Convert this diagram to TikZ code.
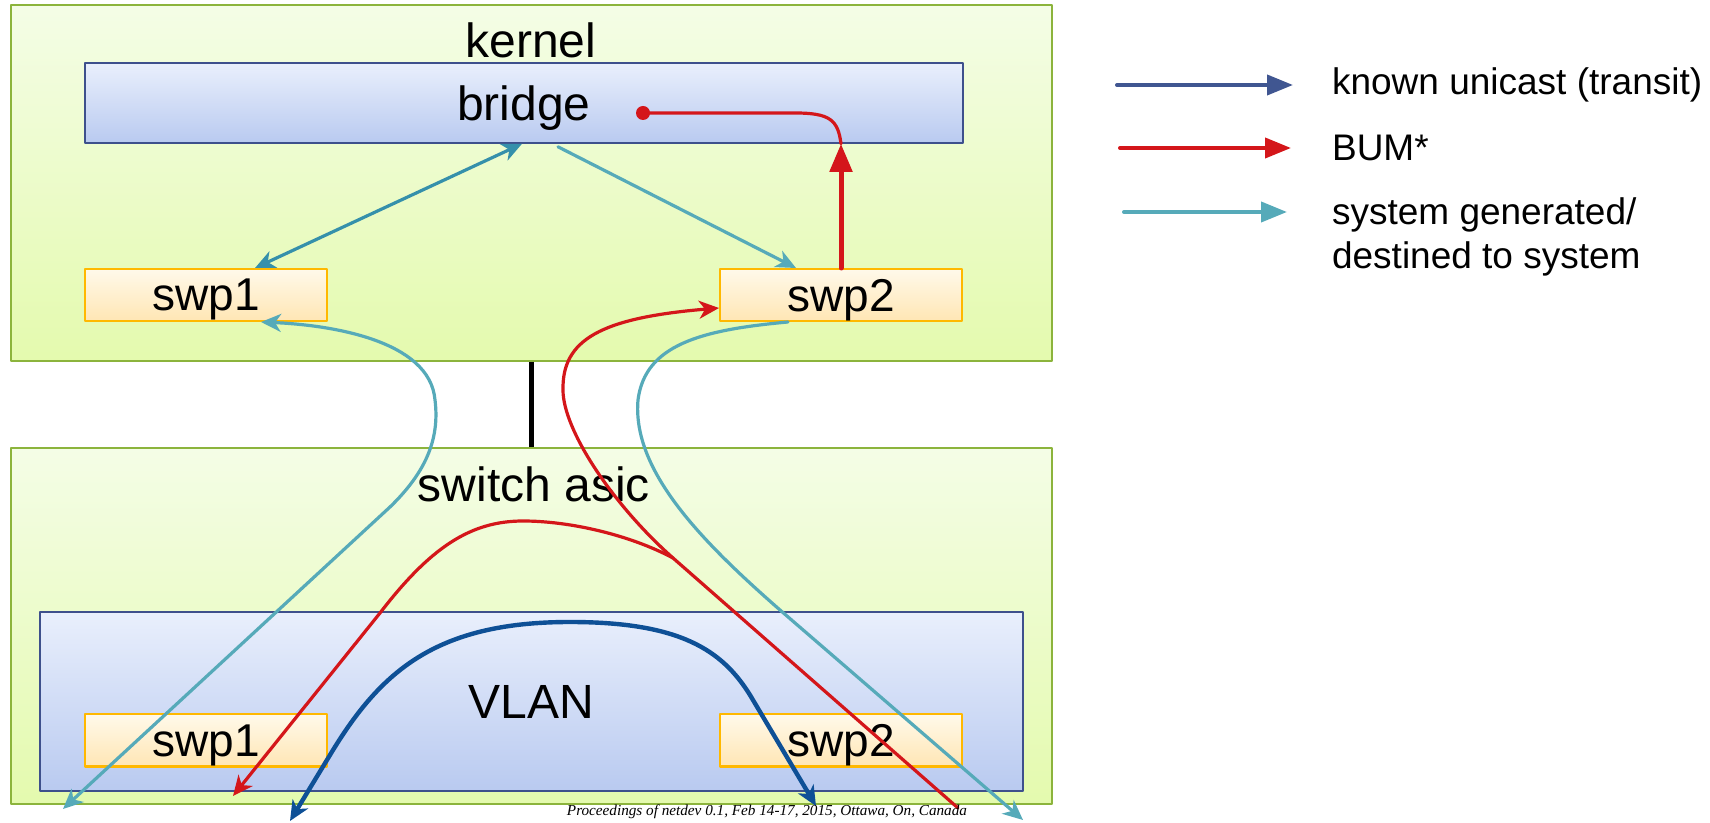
\documentclass[tikz,border=0pt]{standalone}
\usepackage{fontspec}
\setmainfont{Liberation Sans}
\newfontfamily\footfont{Liberation Serif}
\usetikzlibrary{arrows.meta,calc}

\definecolor{greenline}{HTML}{8CB43C}
\definecolor{greentop}{HTML}{F4FDE6}
\definecolor{greenbot}{HTML}{E4FAAE}
\definecolor{blueline}{HTML}{3E508C}
\definecolor{bluetop}{HTML}{E9EFFC}
\definecolor{bluebot}{HTML}{B9CAF0}
\definecolor{portline}{HTML}{FFB800}
\definecolor{porttop}{HTML}{FFF9EA}
\definecolor{portbot}{HTML}{FFE6B4}
\definecolor{tealc}{HTML}{56AAB9}
\definecolor{tealdark}{HTML}{3590AB}
\definecolor{bumred}{HTML}{D4161A}
\definecolor{uniblue}{HTML}{0E5096}
\definecolor{legblue}{HTML}{405691}

\begin{document}
\begin{tikzpicture}[line cap=round,line join=round,x=0.5pt,y=-0.5pt,
  >={Stealth[length=10pt,width=9pt,inset=3pt]},
  greenbox/.style={draw=greenline,line width=1pt,top color=greentop,bottom color=greenbot,
    minimum width=520.5pt,minimum height=178pt,inner sep=0pt},
  bluebox/.style={draw=blueline,line width=0.8pt,top color=bluetop,bottom color=bluebot,
    inner sep=0pt,text depth=0pt,font=\fontsize{24}{28}\selectfont},
  portbox/.style={draw=portline,line width=1pt,top color=porttop,bottom color=portbot,
    minimum width=121pt,minimum height=26pt,inner sep=0pt,text depth=0pt,
    font=\fontsize{23}{27}\selectfont},
  bigtext/.style={anchor=base,font=\fontsize{24}{28}\selectfont},
  legtext/.style={anchor=west,font=\fontsize{18.5}{22}\selectfont},
  legarrow/.style={line width=2pt,-{Triangle[length=13pt,width=10pt]}},
  sys/.style={draw=tealc,line width=1.6pt},
  bum/.style={draw=bumred,line width=1.6pt},
  uni/.style={draw=uniblue,line width=2.2pt}]

\useasboundingbox (0,0) rectangle (1710,823);

% boxes
\node[greenbox] (kernel) at (531.5,183) {};
\node[bigtext] (kernellbl) at (531,58) {kernel};
\node[bluebox,minimum width=439pt,minimum height=40pt] (bridge) at (524,103) {bridge};
\node[portbox] (kswpA) at (206,295) {swp1};
\node[portbox] (kswpB) at (841,295) {swp2};

\node[greenbox] (asic) at (531.5,626) {};
\node[bigtext] (asiclbl) at (534,502) {switch asic};
\node[bluebox,minimum width=491.5pt,minimum height=89.5pt] (vlan) at (531.5,701.5) {VLAN};
\node[portbox] (aswpA) at (206,740.5) {swp1};
\node[portbox] (aswpB) at (841,740.5) {swp2};

\draw[line width=2.5pt,line cap=butt] (kernel.south) -- (asic.north);

% free ends
\coordinate (bumdot) at (643,113);
\coordinate (bumin) at (958,808);
\coordinate (bumout) at (233,796);
\coordinate (uniL) at (290,821);
\coordinate (uniR) at (816,806);
\coordinate (sysL) at (63,809);
\coordinate (sysR) at (1023,820);

% kernel paths
\draw[sys,draw=tealdark,<->] ($(bridge.south)+(-2,0)$) -- ($(kswpA.north)+(49,0)$);
\draw[sys,->] ($(bridge.south)+(34,3)$) -- ($(kswpB.north)+(-45,0)$);
\draw[bum,line width=2.5pt,-{Triangle[length=14pt,width=11pt]}] (kswpB.north) -- (kswpB.north |- bridge.south);
\draw[bum] (kswpB.north |- bridge.south) .. controls (838,120) and (830,113) .. (795,113) -- (bumdot);
\fill[bumred] (bumdot) circle (3.5pt);

% asic paths
\draw[uni,<->] (uniL) -- (330,755) .. controls (380,672) and (435,622) .. (570,622)
  .. controls (680,622) and (722,650) .. (750,695) -- (uniR);
\draw[bum,->] (bumin) -- (673,558) .. controls (613,505) and (563,430) .. (563,390)
  .. controls (562,340) and (600,318) .. (kswpB.west |- 0,308);
\draw[bum,->] (673,558) .. controls (630,535) and (570,521) .. (523,521)
  .. controls (470,521) and (430,548) .. (380,613) -- (bumout);
\draw[sys,<->] ($(kswpA.south)+(55,0)$) .. controls (330,325) and (430,340) .. (435,400)
  .. controls (440,440) and (425,473) .. (390,507) -- (sysL);
\draw[sys,->] ($(kswpB.south)+(-53,0)$) .. controls (700,330) and (645,345) .. (638,400)
  .. controls (632,470) and (700,540) .. (780,610) -- (sysR);

% legend
\coordinate (lgA) at (1117,85);
\coordinate (lgB) at (1120,148);
\coordinate (lgC) at (1124,212);
\draw[legarrow,draw=legblue] (lgA) -- ++(176,0);
\draw[legarrow,draw=bumred] (lgB) -- ++(171,0);
\draw[legarrow,draw=tealc] (lgC) -- ++(163,0);
\node[legtext] (lgtextA) at (1325,85) {known unicast (transit)};
\node[legtext] (lgtextB) at (1325,148) {BUM*};
\node[legtext,align=left] (lgtextC) at (1325,237) {system generated/\\destined to system};

\node[anchor=base,font=\footfont\itshape\fontsize{7.6}{9}\selectfont] (footer) at (767,815)
  {Proceedings of netdev 0.1, Feb 14-17, 2015, Ottawa, On, Canada};
\end{tikzpicture}
\end{document}
